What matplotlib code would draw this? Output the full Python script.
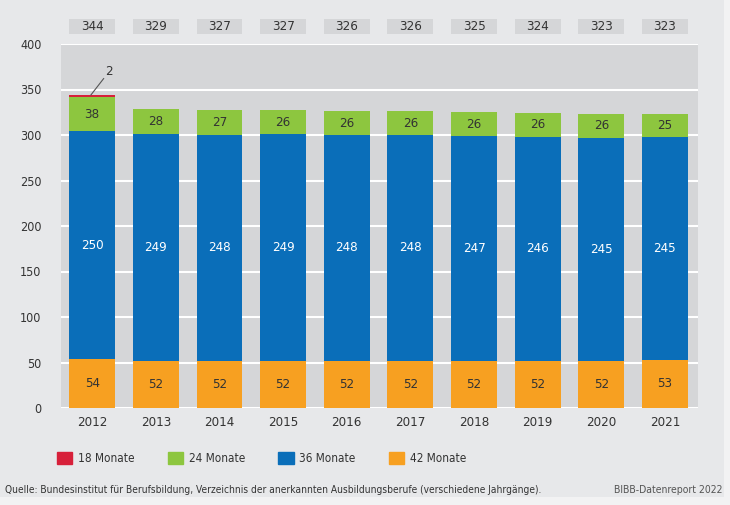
import matplotlib.pyplot as plt
from matplotlib.patches import Rectangle, Patch

jahre = ['2012', '2013', '2014', '2015', '2016', '2017', '2018', '2019', '2020', '2021']
m18 = [2, 0, 0, 0, 0, 0, 0, 0, 0, 0]
m24 = [38, 28, 27, 26, 26, 26, 26, 26, 26, 25]
m36 = [250, 249, 248, 249, 248, 248, 247, 246, 245, 245]
m42 = [54, 52, 52, 52, 52, 52, 52, 52, 52, 53]
gesamt = [344, 329, 327, 327, 326, 326, 325, 324, 323, 323]

rot = '#d7203a'
gruen = '#8dc63f'
blau = '#0a6eb9'
orange = '#f7a021'
txt = '#333333'

plt.rcParams['font.family'] = ['DejaVu Sans']
plt.rcParams['font.stretch'] = 'condensed'

fig = plt.figure(figsize=(7.30, 5.05), dpi=100)
fig.patch.set_facecolor('#f2f2f3')
fig.patches.append(Rectangle((0, 8 / 505), 724 / 730, 497 / 505, transform=fig.transFigure,
                             facecolor='#e7e8ea', edgecolor='none', zorder=-1))
ax = fig.add_axes([61 / 730, 1 - 408 / 505, 637 / 730, 364 / 505])
ax.set_facecolor('#d5d6d8')

x = range(len(jahre))
w = 0.72
b42 = ax.bar(x, m42, w, color=orange, zorder=3)
b36 = ax.bar(x, m36, w, bottom=m42, color=blau, zorder=3)
unten24 = [a + b for a, b in zip(m42, m36)]
b24 = ax.bar(x, m24, w, bottom=unten24, color=gruen, zorder=3)
unten18 = [a + b for a, b in zip(unten24, m24)]
ax.bar(x, m18, w, bottom=unten18, color=rot, zorder=3)

ax.bar_label(b42, labels=[str(v) for v in m42], label_type='center', color=txt, fontsize=9.5)
ax.bar_label(b36, labels=[str(v) for v in m36], label_type='center', color='white', fontsize=9.5)
ax.bar_label(b24, labels=[str(v) for v in m24], label_type='center', color=txt, fontsize=9.5)

# Beschriftung 18 Monate (nur 2012)
ax.plot([-0.02, 0.18], [unten18[0] + m18[0], 362], color='#555555', lw=0.8, zorder=4)
ax.text(0.2, 363, str(m18[0]), color=txt, fontsize=9.5, ha='left', va='bottom')

# Summenkästen oberhalb
tr = ax.get_xaxis_transform()
for i, g in enumerate(gesamt):
    ax.add_patch(Rectangle((i - w / 2, 1.0275), w, 0.041, transform=tr, clip_on=False,
                           facecolor='#d5d6d8', edgecolor='none'))
    ax.text(i, 1.048, str(g), transform=tr, ha='center', va='center', color=txt, fontsize=9.5)

ax.set_xlim(-0.49, 9.52)
ax.set_ylim(0, 400)
ax.set_yticks(range(0, 401, 50))
ax.set_xticks(list(x))
ax.set_xticklabels(jahre)
ax.grid(axis='y', color='white', lw=1.5, zorder=1)
ax.set_axisbelow(True)
for s in ax.spines.values():
    s.set_visible(False)
ax.tick_params(length=0, colors=txt, labelsize=9.5)
ax.tick_params(axis='y', pad=14, labelsize=9)
ax.tick_params(axis='x', pad=6)

handles = [Patch(color=rot), Patch(color=gruen), Patch(color=blau), Patch(color=orange)]
fig.legend(handles, ['18 Monate', '24 Monate', '36 Monate', '42 Monate'], ncol=4,
           loc='upper left', bbox_to_anchor=(46 / 730, 1 - 441 / 505), frameon=False,
           fontsize=8.5, handlelength=1.3, handleheight=1.3, handletextpad=0.5,
           columnspacing=2.8, labelcolor=txt)

fig.text(5 / 730, 1 - 490 / 505,
         'Quelle: Bundesinstitut für Berufsbildung, Verzeichnis der anerkannten Ausbildungsberufe (verschiedene Jahrgänge).',
         fontsize=7.3, color=txt, va='center')
fig.text(722 / 730, 1 - 490 / 505, 'BIBB-Datenreport 2022', fontsize=7.5, color='#555555',
         ha='right', va='center')

fig.savefig('out.png', dpi=100, facecolor=fig.get_facecolor())
